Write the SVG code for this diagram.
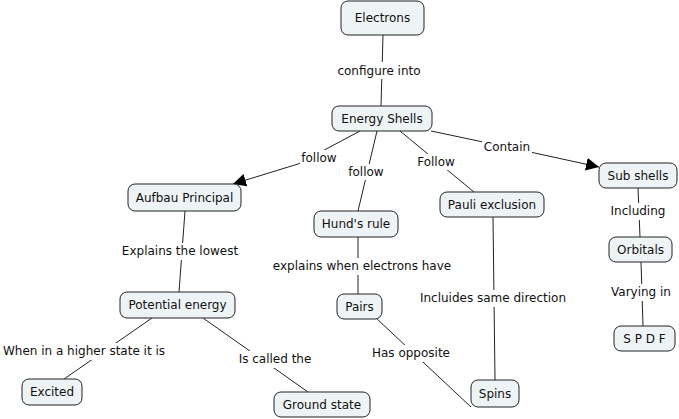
<svg xmlns="http://www.w3.org/2000/svg" width="679" height="419" viewBox="0 0 679 419">
<defs>
<style>
.n rect{fill:#eef3f6;stroke:#222;stroke-width:1}
text{font-family:"DejaVu Sans",Verdana,sans-serif;font-size:12px;fill:#111;text-anchor:middle}
.c line{stroke:#222;stroke-width:1}
.lb{fill:#fff}
</style>
<marker id="ah" viewBox="0 0 10 10" refX="10" refY="5" markerWidth="13" markerHeight="13" markerUnits="userSpaceOnUse" orient="auto"><path d="M0,0 L10,5 L0,10 z" fill="#000"/></marker>
</defs>
<rect width="679" height="419" fill="#fff"/>
<g id="connectors" class="c">
<line x1="383" y1="35" x2="381" y2="106"/>
<line x1="360" y1="131" x2="298" y2="164"/>
<line x1="298" y1="164" x2="233" y2="184" marker-end="url(#ah)"/>
<line x1="377" y1="131" x2="358" y2="211"/>
<line x1="400" y1="131" x2="474" y2="192"/>
<line x1="431" y1="131" x2="507" y2="147"/>
<line x1="507" y1="147" x2="599" y2="167" marker-end="url(#ah)"/>
<line x1="185" y1="211" x2="179" y2="292"/>
<line x1="152" y1="318" x2="64" y2="379"/>
<line x1="203" y1="318" x2="308" y2="392"/>
<line x1="358" y1="237" x2="358" y2="294"/>
<line x1="376" y1="318" x2="471" y2="407"/>
<line x1="493" y1="217" x2="495" y2="380"/>
<line x1="638" y1="188" x2="640" y2="237"/>
<line x1="641" y1="262" x2="643" y2="326"/>
</g>
<g id="labels">
<rect class="lb" x="336" y="62" width="87" height="17"/><text x="379" y="75">configure into</text>
<rect class="lb" x="300" y="150" width="39" height="16"/><text x="319" y="162">follow</text>
<rect class="lb" x="347" y="164" width="39" height="16"/><text x="366" y="176">follow</text>
<rect class="lb" x="415" y="154" width="42" height="16"/><text x="436" y="166">Follow</text>
<rect class="lb" x="482" y="139" width="50" height="16"/><text x="507" y="151">Contain</text>
<rect class="lb" x="120" y="243" width="120" height="17"/><text x="180" y="255">Explains the lowest</text>
<rect class="lb" x="2" y="343" width="165" height="17"/><text x="84" y="355">When in a higher state it is</text>
<rect class="lb" x="236" y="351" width="79" height="17"/><text x="275" y="363">Is called the</text>
<rect class="lb" x="272" y="258" width="180" height="17"/><text x="362" y="270">explains when electrons have</text>
<rect class="lb" x="371" y="345" width="80" height="17"/><text x="411" y="357">Has opposite</text>
<rect class="lb" x="419" y="290" width="149" height="17"/><text x="493" y="302">Incluides same direction</text>
<rect class="lb" x="610" y="203" width="57" height="17"/><text x="638" y="215">Including</text>
<rect class="lb" x="609" y="284" width="64" height="17"/><text x="641" y="296">Varying in</text>
</g>
<g id="electrons" class="n"><rect x="341" y="1" width="83" height="34" rx="7"/><text x="382.5" y="22">Electrons</text></g>
<g id="energy-shells" class="n"><rect x="332" y="106" width="100" height="25" rx="7"/><text x="382" y="122.5">Energy Shells</text></g>
<g id="aufbau" class="n"><rect x="128" y="184" width="113" height="27" rx="7"/><text x="184.5" y="201.5">Aufbau Principal</text></g>
<g id="hunds" class="n"><rect x="314" y="211" width="84" height="26" rx="7"/><text x="356" y="228">Hund's rule</text></g>
<g id="pauli" class="n"><rect x="440" y="192" width="104" height="25" rx="7"/><text x="492" y="208.5">Pauli exclusion</text></g>
<g id="subshells" class="n"><rect x="599" y="163" width="78" height="25" rx="7"/><text x="638" y="179.5">Sub shells</text></g>
<g id="orbitals" class="n"><rect x="609" y="237" width="63" height="25" rx="7"/><text x="640.5" y="253.5">Orbitals</text></g>
<g id="spdf" class="n"><rect x="614" y="326" width="61" height="25" rx="7"/><text x="644.5" y="342.5">S P D F</text></g>
<g id="potential" class="n"><rect x="120" y="292" width="115" height="26" rx="7"/><text x="177.5" y="309">Potential energy</text></g>
<g id="pairs" class="n"><rect x="337" y="294" width="45" height="25" rx="7"/><text x="359.5" y="310.5">Pairs</text></g>
<g id="spins" class="n"><rect x="471" y="380" width="48" height="27" rx="7"/><text x="495" y="397.5">Spins</text></g>
<g id="excited" class="n"><rect x="22" y="379" width="60" height="26" rx="7"/><text x="52" y="396">Excited</text></g>
<g id="ground" class="n"><rect x="274" y="392" width="96" height="25" rx="7"/><text x="322" y="408.5">Ground state</text></g>
</svg>
